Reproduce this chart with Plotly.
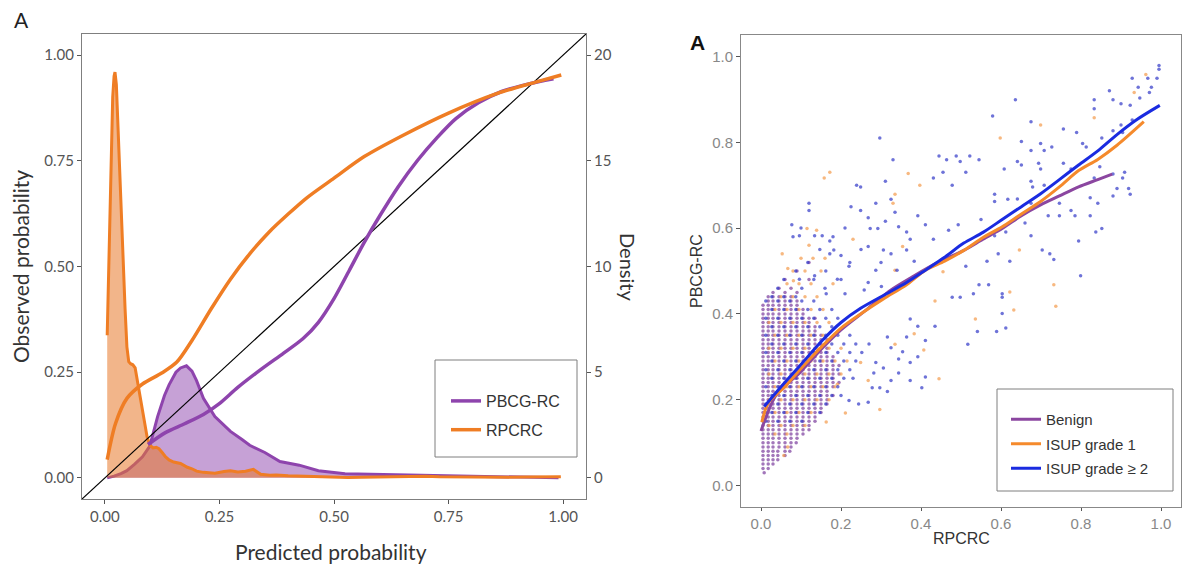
import plotly.graph_objects as go

# ---------------- Left panel data (calibration + density) ----------------
cal_rpcrc_x = [0.005, 0.023, 0.048, 0.082, 0.124, 0.157, 0.19, 0.232, 0.274, 0.316, 0.357, 0.40, 0.44, 0.50,
               0.566, 0.65, 0.75, 0.858, 0.94, 0.996]
cal_rpcrc_y = [0.043, 0.128, 0.188, 0.222, 0.248, 0.274, 0.325, 0.40, 0.47, 0.53, 0.58, 0.624, 0.662, 0.709,
               0.76, 0.81, 0.863, 0.91, 0.936, 0.953]

cal_pbcg_x = [0.094, 0.132, 0.174, 0.215, 0.249, 0.29, 0.34, 0.39, 0.432, 0.466, 0.50, 0.533, 0.566, 0.60,
              0.641, 0.683, 0.725, 0.766, 0.816, 0.866, 0.925, 0.979]
cal_pbcg_y = [0.079, 0.107, 0.128, 0.150, 0.175, 0.214, 0.256, 0.295, 0.329, 0.368, 0.424, 0.49, 0.557, 0.62,
              0.69, 0.752, 0.805, 0.85, 0.888, 0.914, 0.932, 0.944]

dens_rpcrc_x = [0.005, 0.009, 0.013, 0.017, 0.02, 0.022, 0.025, 0.028, 0.032, 0.036, 0.04, 0.044, 0.048, 0.052,
                0.056, 0.061, 0.066, 0.07, 0.075, 0.08, 0.086, 0.092, 0.098, 0.105, 0.112, 0.118, 0.125, 0.132,
                0.14, 0.15, 0.165, 0.18, 0.19, 0.2, 0.215, 0.24, 0.26, 0.274, 0.29, 0.307, 0.324, 0.34, 0.36,
                0.374, 0.4, 0.43, 0.46, 0.5, 0.53, 0.56, 0.6, 0.63, 0.66, 0.7, 0.73, 0.77, 0.8, 0.84, 0.88,
                0.92, 0.96, 0.995]
dens_rpcrc_y = [6.75, 10.5, 14.5, 18.0, 19.0, 19.2, 18.6, 16.8, 14.3, 12.5, 10.3, 8.0, 6.2, 5.5,
                5.4, 5.35, 5.2, 4.7, 4.1, 3.3, 2.55, 1.95, 1.55, 1.42, 1.45, 1.38, 1.2, 1.0,
                0.85, 0.75, 0.68, 0.5, 0.43, 0.32, 0.26, 0.22, 0.3, 0.34, 0.28, 0.31, 0.4, 0.17, 0.12,
                0.14, 0.1, 0.08, 0.06, 0.05, 0.02, 0.03, 0.05, 0.04, 0.07, 0.08, 0.05, 0.04, 0.03, 0.05, 0.03,
                0.04, 0.03, 0.05]

dens_pbcg_x = [0.005, 0.02, 0.035, 0.048, 0.065, 0.082, 0.098, 0.115, 0.13, 0.14, 0.155, 0.165, 0.178, 0.19,
               0.2, 0.215, 0.24, 0.274, 0.3, 0.316, 0.349, 0.382, 0.424, 0.466, 0.524, 0.608, 0.69, 0.775,
               0.86, 0.93, 0.99]
dens_pbcg_y = [0.0, 0.08, 0.2, 0.34, 0.65, 1.0, 1.5, 2.9, 3.9, 4.4, 5.0, 5.2, 5.3, 5.05,
               4.6, 3.76, 2.9, 2.2, 1.8, 1.54, 1.2, 0.77, 0.6, 0.34, 0.2, 0.17, 0.12, 0.09,
               0.05, 0.03, 0.0]

prob_ticks = [0, 0.25, 0.5, 0.75, 1.0]
prob_ticktext = ["0.00", "0.25", "0.50", "0.75", "1.00"]
dens_ticks = [0, 5, 10, 15, 20]

# ---------------- Right panel data (scatter + smoothers) ----------------
smooth_benign_x = [0.0, 0.038, 0.096, 0.153, 0.2, 0.268, 0.325, 0.383, 0.44, 0.507, 0.555, 0.603, 0.651, 0.699,
                   0.746, 0.794, 0.842, 0.878]
smooth_benign_y = [0.127, 0.211, 0.262, 0.32, 0.363, 0.413, 0.456, 0.489, 0.519, 0.548, 0.574, 0.599, 0.629,
                   0.654, 0.675, 0.696, 0.713, 0.726]

smooth_isup1_x = [0.002, 0.019, 0.057, 0.105, 0.153, 0.2, 0.249, 0.306, 0.364, 0.411, 0.459, 0.507, 0.555,
                  0.603, 0.651, 0.699, 0.746, 0.794, 0.842, 0.89, 0.957]
smooth_isup1_y = [0.148, 0.194, 0.228, 0.278, 0.325, 0.367, 0.40, 0.435, 0.468, 0.502, 0.523, 0.548, 0.578,
                  0.603, 0.633, 0.662, 0.696, 0.734, 0.76, 0.793, 0.848]

smooth_isup2_x = [0.008, 0.048, 0.096, 0.153, 0.2, 0.249, 0.306, 0.364, 0.411, 0.459, 0.507, 0.555, 0.603,
                  0.651, 0.699, 0.746, 0.794, 0.842, 0.89, 0.938, 0.997]
smooth_isup2_y = [0.184, 0.228, 0.278, 0.338, 0.38, 0.413, 0.443, 0.473, 0.502, 0.532, 0.565, 0.59, 0.62,
                  0.65, 0.68, 0.713, 0.747, 0.78, 0.818, 0.852, 0.886]

benign_rows = """
0.03: 0.008
0.04: 0.005 0.018
0.05: 0.005 0.018 0.03
0.06: 0.005 0.018 0.03 0.042
0.07: 0.005 0.018 0.03 0.042 0.06
0.08: 0.005 0.018 0.03 0.042 0.06 0.072
0.09: 0.005 0.018 0.03 0.045 0.06 0.075
0.10: 0.005 0.018 0.03 0.045 0.06 0.075 0.088
0.11: 0.005 0.018 0.03 0.045 0.06 0.075 0.09
0.12: 0.005 0.018 0.03 0.045 0.06 0.075 0.09 0.105
0.13: 0.005 0.018 0.03 0.045 0.06 0.075 0.09 0.105 0.12
0.14: 0.005 0.018 0.03 0.045 0.06 0.075 0.09 0.105 0.12
0.15: 0.005 0.018 0.03 0.045 0.06 0.075 0.09 0.105 0.12 0.135
0.16: 0.005 0.018 0.03 0.045 0.06 0.075 0.09 0.105 0.12 0.135
0.17: 0.005 0.018 0.03 0.045 0.06 0.075 0.09 0.105 0.12 0.135 0.15
0.18: 0.005 0.018 0.03 0.045 0.06 0.075 0.09 0.105 0.12 0.135 0.15
0.19: 0.005 0.018 0.03 0.045 0.06 0.075 0.09 0.105 0.12 0.135 0.15 0.165
0.20: 0.005 0.018 0.03 0.045 0.06 0.075 0.09 0.105 0.12 0.135 0.15 0.165
0.21: 0.005 0.018 0.03 0.045 0.06 0.075 0.09 0.105 0.12 0.135 0.15 0.165 0.18
0.22: 0.005 0.018 0.03 0.045 0.06 0.075 0.09 0.105 0.12 0.135 0.15 0.165
0.23: 0.005 0.018 0.03 0.045 0.06 0.075 0.09 0.105 0.12 0.135 0.15 0.165 0.18
0.24: 0.005 0.018 0.03 0.045 0.06 0.075 0.09 0.105 0.12 0.135 0.15 0.165 0.18 0.195
0.25: 0.005 0.018 0.03 0.045 0.06 0.075 0.09 0.105 0.12 0.135 0.15 0.165 0.18
0.26: 0.005 0.018 0.03 0.045 0.06 0.075 0.09 0.105 0.12 0.135 0.15 0.165 0.18 0.195
0.27: 0.005 0.018 0.03 0.045 0.06 0.075 0.09 0.105 0.12 0.135 0.15 0.165 0.18
0.28: 0.005 0.018 0.03 0.045 0.06 0.075 0.09 0.105 0.12 0.135 0.15 0.165 0.18 0.195
0.29: 0.005 0.018 0.03 0.045 0.06 0.075 0.09 0.105 0.12 0.135 0.15 0.165 0.18
0.30: 0.005 0.018 0.03 0.045 0.06 0.075 0.09 0.105 0.12 0.135 0.15 0.165 0.18
0.31: 0.005 0.018 0.03 0.045 0.06 0.075 0.09 0.105 0.12 0.135 0.15 0.165
0.32: 0.005 0.018 0.03 0.045 0.06 0.075 0.09 0.105 0.12 0.135 0.15 0.165
0.33: 0.005 0.018 0.03 0.045 0.06 0.075 0.09 0.105 0.12 0.135 0.15
0.34: 0.005 0.018 0.03 0.045 0.06 0.075 0.09 0.105 0.12 0.135 0.15 0.165
0.35: 0.005 0.018 0.03 0.045 0.06 0.075 0.09 0.105 0.12 0.135 0.15
0.36: 0.005 0.018 0.03 0.045 0.06 0.075 0.09 0.105 0.12 0.135
0.37: 0.005 0.018 0.03 0.045 0.06 0.075 0.09 0.105 0.12 0.135
0.38: 0.005 0.018 0.03 0.045 0.06 0.075 0.09 0.105 0.12
0.39: 0.005 0.018 0.03 0.045 0.06 0.075 0.09 0.105 0.12 0.135
0.40: 0.005 0.018 0.03 0.045 0.06 0.075 0.09 0.105
0.41: 0.005 0.018 0.03 0.045 0.06 0.075 0.09 0.105
0.42: 0.005 0.018 0.03 0.045 0.06 0.075 0.09
0.43: 0.018 0.03 0.045 0.06 0.075 0.09
0.44: 0.018 0.03 0.045 0.06 0.075
0.45: 0.03 0.06 0.09
0.46: 0.045 0.075
0.48: 0.06 0.12
0.50: 0.09
0.52: 0.12
"""

isup1_rows = """
0.07: 0.057
0.09: 0.067
0.12: 0.035 0.065
0.14: 0.02 0.05 0.08 0.11
0.17: 0.035 0.065 0.095 0.125
0.20: 0.02 0.05 0.08 0.11 0.14 0.17
0.23: 0.035 0.065 0.095 0.125 0.155 0.185
0.26: 0.02 0.05 0.08 0.11 0.14 0.17 0.2
0.29: 0.035 0.065 0.095 0.125 0.155 0.185 0.215
0.32: 0.02 0.05 0.08 0.11 0.14 0.17 0.2
0.35: 0.035 0.065 0.095 0.125 0.155 0.185
0.38: 0.02 0.05 0.08 0.11 0.14 0.17
0.41: 0.035 0.065 0.095 0.125 0.155
0.44: 0.05 0.08 0.11 0.14
0.47: 0.065 0.095 0.125 0.18
0.50: 0.08 0.11 0.15
0.53: 0.1 0.13 0.16
0.56: 0.12
"""

isup1_sparse_x = [0.962, 0.933, 0.833, 0.699, 0.598, 0.172, 0.158, 0.368, 0.397, 0.335, 0.646, 0.732, 0.737,
                  0.632, 0.622, 0.536, 0.435, 0.455, 0.335, 0.354, 0.33, 0.115, 0.139, 0.053, 0.067, 0.081,
                  0.23, 0.383, 0.407, 0.445, 0.297, 0.211, 0.268, 0.335, 0.249, 0.191, 0.163]
isup1_sparse_y = [0.958, 0.916, 0.857, 0.84, 0.81, 0.73, 0.717, 0.727, 0.7, 0.679, 0.549, 0.468, 0.418,
                  0.409, 0.451, 0.388, 0.43, 0.498, 0.502, 0.557, 0.658, 0.599, 0.595, 0.54, 0.506, 0.477,
                  0.574, 0.354, 0.316, 0.249, 0.177, 0.169, 0.245, 0.329, 0.287, 0.236, 0.148]

isup2_rows = """
0.15: 0.012 0.042 0.072 0.102
0.17: 0.012 0.027 0.057 0.087 0.117 0.147
0.19: 0.012 0.042 0.072 0.102 0.132 0.162
0.21: 0.027 0.057 0.087 0.117 0.147 0.177 0.2
0.23: 0.012 0.042 0.072 0.102 0.132 0.162 0.192
0.25: 0.027 0.057 0.087 0.117 0.147 0.177 0.207 0.23
0.27: 0.012 0.042 0.072 0.102 0.132 0.162 0.192 0.222
0.29: 0.027 0.057 0.087 0.117 0.147 0.177 0.207 0.237
0.31: 0.012 0.042 0.072 0.102 0.132 0.162 0.192 0.222 0.252
0.33: 0.027 0.057 0.087 0.117 0.147 0.177 0.207 0.237 0.27
0.35: 0.012 0.042 0.072 0.102 0.132 0.162 0.192 0.222
0.37: 0.027 0.057 0.087 0.117 0.147 0.177 0.207
0.39: 0.012 0.042 0.072 0.102 0.132 0.162 0.192
0.41: 0.027 0.057 0.087 0.117 0.147 0.177
0.43: 0.012 0.042 0.072 0.102 0.132
0.44: 0.027 0.057 0.087
0.46: 0.042 0.102 0.16
0.48: 0.057 0.132 0.2
0.50: 0.087 0.162
0.52: 0.117 0.222 0.3
0.55: 0.147 0.25
0.58: 0.08 0.18
0.60: 0.1 0.21
"""

isup2_sparse_x = [0.995, 0.995, 0.99, 0.967, 0.928, 0.943, 0.976, 0.971, 0.947, 0.9, 0.923, 0.871, 0.833, 0.833,
                  0.88, 0.636, 0.579, 0.675, 0.756, 0.9, 0.928, 0.789, 0.852, 0.88, 0.904, 0.297, 0.804, 0.651,
                  0.699, 0.813, 0.675, 0.708, 0.727, 0.445, 0.464, 0.488, 0.522, 0.545, 0.33, 0.498, 0.608,
                  0.641, 0.651, 0.694, 0.699, 0.756, 0.775, 0.847, 0.88, 0.909, 0.904, 0.455, 0.512, 0.431,
                  0.478, 0.675, 0.679, 0.708, 0.833, 0.919, 0.923, 0.88, 0.89, 0.823, 0.842, 0.239, 0.311,
                  0.584, 0.617, 0.641, 0.584, 0.675, 0.746, 0.775, 0.718, 0.746, 0.785, 0.823, 0.66, 0.55,
                  0.612, 0.584, 0.675, 0.703, 0.722, 0.732, 0.852, 0.837, 0.794, 0.799, 0.622, 0.565, 0.593,
                  0.512, 0.545, 0.569, 0.478, 0.498, 0.531, 0.603, 0.603, 0.603, 0.612, 0.541, 0.589, 0.517,
                  0.411, 0.435, 0.392, 0.373, 0.411, 0.373, 0.373, 0.325, 0.297, 0.278, 0.268, 0.244, 0.22,
                  0.316, 0.306, 0.344, 0.344, 0.354, 0.392, 0.402, 0.282, 0.287, 0.325, 0.316, 0.364,
                  0.12, 0.12, 0.153, 0.172, 0.182, 0.225, 0.249, 0.268, 0.273, 0.292, 0.335, 0.344, 0.364,
                  0.373, 0.392, 0.411, 0.249, 0.287, 0.325, 0.311, 0.077, 0.096, 0.134, 0.172, 0.2, 0.268,
                  0.306, 0.325, 0.364, 0.383, 0.34, 0.287, 0.22, 0.134, 0.096, 0.191, 0.268, 0.301, 0.258,
                  0.21, 0.163, 0.431, 0.469, 0.493]
isup2_sparse_y = [0.979, 0.97, 0.949, 0.949, 0.949, 0.928, 0.928, 0.916, 0.903, 0.89, 0.886, 0.92, 0.899, 0.878,
                  0.899, 0.899, 0.861, 0.848, 0.831, 0.84, 0.852, 0.823, 0.81, 0.827, 0.823, 0.81, 0.797, 0.802,
                  0.797, 0.789, 0.781, 0.781, 0.789, 0.768, 0.759, 0.768, 0.768, 0.759, 0.759, 0.755, 0.738,
                  0.755, 0.747, 0.751, 0.738, 0.751, 0.738, 0.743, 0.726, 0.73, 0.717, 0.73, 0.73, 0.717,
                  0.7, 0.709, 0.696, 0.7, 0.717, 0.692, 0.679, 0.675, 0.692, 0.671, 0.658, 0.7, 0.709,
                  0.679, 0.667, 0.668, 0.662, 0.658, 0.658, 0.641, 0.629, 0.629, 0.629, 0.629, 0.612, 0.62,
                  0.591, 0.582, 0.582, 0.549, 0.54, 0.527, 0.599, 0.591, 0.57, 0.489, 0.523, 0.523, 0.54,
                  0.511, 0.468, 0.468, 0.439, 0.439, 0.447, 0.447, 0.439, 0.401, 0.367, 0.359, 0.359, 0.329,
                  0.338, 0.371, 0.371, 0.388, 0.253, 0.287, 0.245, 0.245, 0.228, 0.228, 0.194, 0.19, 0.198,
                  0.219, 0.274, 0.262, 0.295, 0.312, 0.3, 0.228, 0.262, 0.287, 0.321, 0.346, 0.346,
                  0.658, 0.641, 0.582, 0.57, 0.549, 0.65, 0.641, 0.624, 0.599, 0.599, 0.637, 0.603, 0.591,
                  0.574, 0.629, 0.608, 0.696, 0.658, 0.667, 0.616, 0.608, 0.582, 0.582, 0.54, 0.536, 0.557,
                  0.549, 0.54, 0.549, 0.523, 0.502, 0.502, 0.511, 0.489, 0.481, 0.481, 0.473, 0.464, 0.456,
                  0.447, 0.447, 0.574, 0.595, 0.608]

right_ticks = [0.0, 0.2, 0.4, 0.6, 0.8, 1.0]
right_ticktext = ["0.0", "0.2", "0.4", "0.6", "0.8", "1.0"]


def parse_rows(text):
    xs, ys = [], []
    for line in text.strip().splitlines():
        yv, xv = line.split(":")
        for v in xv.split():
            xs.append(float(v))
            ys.append(float(yv))
    return xs, ys


benign_x, benign_y = parse_rows(benign_rows)
isup1_dx, isup1_dy = parse_rows(isup1_rows)
isup2_dx, isup2_dy = parse_rows(isup2_rows)

# ---------------- Colours ----------------
PURPLE = "#8E44AD"
ORANGE = "#EF7D24"
R_PURPLE = "#8B46A0"
R_ORANGE = "#F58A2C"
R_BLUE = "#1A2BE0"

W, H = 1200, 568


def px(x):
    return x / W


def py(y):
    return 1 - y / H


fig = go.Figure()

# density (main y axis of left panel, right side)
fig.add_trace(go.Scatter(x=dens_pbcg_x, y=dens_pbcg_y, xaxis="x", yaxis="y", mode="lines",
                         line=dict(color=PURPLE, width=3), fill="tozeroy",
                         fillcolor="rgba(142,68,173,0.5)", showlegend=False, hoverinfo="skip"))
fig.add_trace(go.Scatter(x=dens_rpcrc_x, y=dens_rpcrc_y, xaxis="x", yaxis="y", mode="lines",
                         line=dict(color=ORANGE, width=3), fill="tozeroy",
                         fillcolor="rgba(232,121,42,0.55)", showlegend=False, hoverinfo="skip"))
# diagonal + calibration curves (overlaying y2 axis, left side)
fig.add_trace(go.Scatter(x=[-0.05, 1.05], y=[-0.05, 1.05], xaxis="x", yaxis="y2", mode="lines",
                         line=dict(color="black", width=1.2), showlegend=False, hoverinfo="skip"))
fig.add_trace(go.Scatter(x=cal_pbcg_x, y=cal_pbcg_y, xaxis="x", yaxis="y2", mode="lines",
                         line=dict(color=PURPLE, width=3.5, shape="spline", smoothing=0.8),
                         name="PBCG-RC", legend="legend", legendgroup="a"))
fig.add_trace(go.Scatter(x=cal_rpcrc_x, y=cal_rpcrc_y, xaxis="x", yaxis="y2", mode="lines",
                         line=dict(color=ORANGE, width=3.5, shape="spline", smoothing=0.8),
                         name="RPCRC", legend="legend", legendgroup="b"))

# right panel scatter
mk = dict(size=3.5, opacity=0.7, line=dict(width=0))
fig.add_trace(go.Scatter(x=benign_x, y=benign_y, xaxis="x2", yaxis="y3", mode="markers",
                         marker=dict(color="#7A3C9C", **mk), showlegend=False, hoverinfo="skip"))
fig.add_trace(go.Scatter(x=isup1_dx + isup1_sparse_x, y=isup1_dy + isup1_sparse_y, xaxis="x2", yaxis="y3",
                         mode="markers", marker=dict(color="#F39A4A", **mk), showlegend=False,
                         hoverinfo="skip"))
fig.add_trace(go.Scatter(x=isup2_dx + isup2_sparse_x, y=isup2_dy + isup2_sparse_y, xaxis="x2", yaxis="y3",
                         mode="markers", marker=dict(color="#3038C8", **mk), showlegend=False,
                         hoverinfo="skip"))
fig.add_trace(go.Scatter(x=smooth_benign_x, y=smooth_benign_y, xaxis="x2", yaxis="y3", mode="lines",
                         line=dict(color=R_PURPLE, width=3, shape="spline", smoothing=0.8),
                         name="Benign", legend="legend2", legendgroup="c"))
fig.add_trace(go.Scatter(x=smooth_isup1_x, y=smooth_isup1_y, xaxis="x2", yaxis="y3", mode="lines",
                         line=dict(color=R_ORANGE, width=3, shape="spline", smoothing=0.8),
                         name="ISUP grade 1", legend="legend2", legendgroup="d"))
fig.add_trace(go.Scatter(x=smooth_isup2_x, y=smooth_isup2_y, xaxis="x2", yaxis="y3", mode="lines",
                         line=dict(color=R_BLUE, width=3, shape="spline", smoothing=0.8),
                         name="ISUP grade ≥ 2", legend="legend2", legendgroup="e"))

LFONT = "Lato"
AFONT = "Liberation Sans, Arial"
axis_common = dict(showgrid=False, zeroline=False, ticks="outside", tickwidth=1,
                   showline=True, linewidth=1)


def ann(text, x, y, font, angle=0):
    return dict(text=text, x=px(x), y=py(y), xref="paper", yref="paper", showarrow=False,
                xanchor="center", yanchor="middle", textangle=angle, font=font)


fig.update_layout(
    width=W, height=H, margin=dict(l=0, r=0, t=0, b=0),
    paper_bgcolor="white", plot_bgcolor="white",
    xaxis=dict(domain=[px(82), px(586)], anchor="y", range=[-0.05, 1.05], tickvals=prob_ticks,
               ticktext=prob_ticktext, mirror=True, linecolor="#7F7F7F", tickcolor="#555555", ticklen=4,
               tickfont=dict(family=LFONT, size=15, color="#555555"), **axis_common),
    yaxis=dict(domain=[py(499), py(34)], anchor="x", side="right", range=[-1.0, 21.0], tickvals=dens_ticks,
               linecolor="#7F7F7F", tickcolor="#555555", ticklen=4,
               tickfont=dict(family=LFONT, size=15, color="#555555"), **axis_common),
    yaxis2=dict(overlaying="y", anchor="x", side="left", range=[-0.05, 1.05], tickvals=prob_ticks,
                ticktext=prob_ticktext, linecolor="#7F7F7F", tickcolor="#555555", ticklen=4,
                tickfont=dict(family=LFONT, size=15, color="#555555"), **axis_common),
    xaxis2=dict(domain=[px(741), px(1181)], anchor="y3", range=[-0.05, 1.05], tickvals=right_ticks,
                ticktext=right_ticktext, mirror=True, linecolor="#888888", tickcolor="#555555", ticklen=3,
                tickfont=dict(family=AFONT, size=15, color="#888888"), **axis_common),
    yaxis3=dict(domain=[py(507), py(35)], anchor="x2", range=[-0.05, 1.05], tickvals=right_ticks,
                ticktext=right_ticktext, mirror=True, linecolor="#888888", tickcolor="#555555", ticklen=4,
                tickfont=dict(family=AFONT, size=15, color="#888888"), **axis_common),
    legend=dict(x=px(446), y=py(384), xanchor="left", yanchor="top", bgcolor="rgba(0,0,0,0)",
                borderwidth=0, traceorder="grouped", tracegroupgap=5,
                font=dict(family=AFONT, size=16, color="#333333")),
    legend2=dict(x=px(1006), y=py(403), xanchor="left", yanchor="top", bgcolor="rgba(0,0,0,0)",
                 borderwidth=0, traceorder="grouped", tracegroupgap=2,
                 font=dict(family=AFONT, size=15, color="#333333")),
    shapes=[
        dict(type="rect", xref="paper", yref="paper", x0=px(435), x1=px(577), y0=py(457), y1=py(360),
             line=dict(color="#7F7F7F", width=1), fillcolor="rgba(0,0,0,0)"),
        dict(type="rect", xref="paper", yref="paper", x0=px(997), x1=px(1173), y0=py(491), y1=py(389),
             line=dict(color="#7F7F7F", width=1), fillcolor="rgba(0,0,0,0)"),
    ],
    annotations=[
        ann("A", 21, 19, dict(family=LFONT, size=21, color="#222222")),
        ann("Observed probability", 20, 267, dict(family=LFONT, size=21, color="#333333"), -90),
        ann("Predicted probability", 331, 551, dict(family=LFONT, size=21, color="#333333")),
        ann("Density", 628, 267, dict(family=LFONT, size=20, color="#333333"), 90),
        ann("<b>A</b>", 697, 43, dict(family=AFONT, size=21, color="#111111")),
        ann("PBCG-RC", 696, 271, dict(family=AFONT, size=16, color="#333333"), -90),
        ann("RPCRC", 961, 538, dict(family=AFONT, size=16, color="#333333")),
    ],
)

fig.write_html("out.html")
